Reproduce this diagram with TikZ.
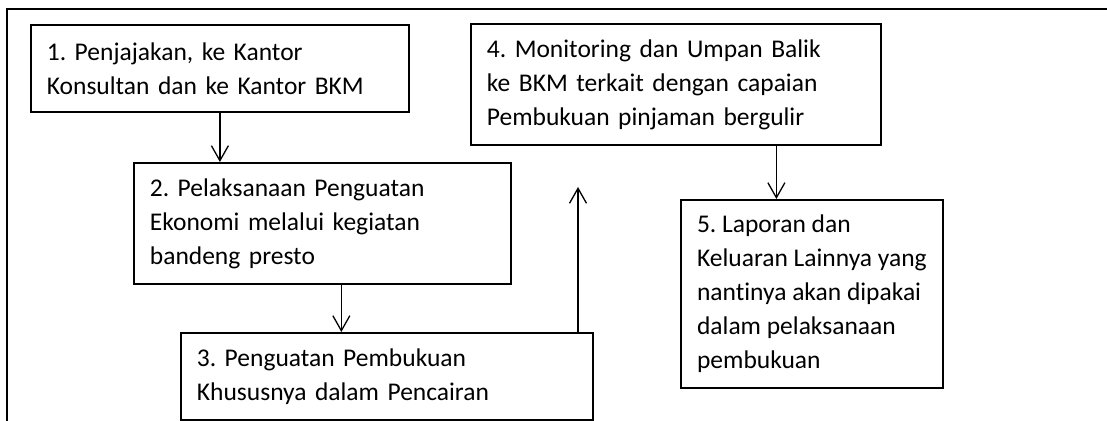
\documentclass[tikz,border=0pt]{standalone}
\usepackage{fontspec}
\setmainfont{Carlito}[Ligatures=CommonOff]
\usepackage{tikz}
\usetikzlibrary{arrows.meta, positioning, calc}

\tikzset{
    stagebox/.style={draw, line width=0.9pt, anchor=north west, align=left,
        inner xsep=8pt, inner ysep=0pt,
        font=\fontsize{12.75}{17}\selectfont\frenchspacing},
    flow/.style={line width=0.65pt, -{Straight Barb[length=7.5pt, width=8.5pt]}}
}

\begin{document}
\begin{tikzpicture}[x=0.5pt, y=-0.5pt]
        \useasboundingbox (0,0) rectangle (1107,421);

        % Bingkai
        \draw[line width=0.8pt] (7,421) -- (7,9) -- (1107,9);

        % Tahapan kegiatan
        \node[stagebox, text width=173pt, minimum height=43.5pt] (b1) at (30,24)
            {1. Penjajakan, ke Kantor\\Konsultan dan ke Kantor BKM};
        \node[stagebox, text width=172.5pt, minimum height=60.5pt] (b2) at (133,162)
            {2. Pelaksanaan Penguatan\\Ekonomi melalui kegiatan\\bandeng presto};
        \node[stagebox, text width=190pt, minimum height=43.5pt] (b3) at (180,332)
            {3. Penguatan Pembukuan\\Khususnya dalam Pencairan};
        \node[stagebox, text width=189pt, minimum height=60.5pt] (b4) at (470,23)
            {4. Monitoring dan Umpan Balik\\ke BKM terkait dengan capaian\\Pembukuan pinjaman bergulir};
        \node[stagebox, minimum width=131pt, minimum height=94pt] (b5) at (680,199)
            {5. Laporan dan\\Keluaran Lainnya yang\\nantinya akan dipakai\\dalam pelaksanaan\\pembukuan};

        % Alur
        \coordinate (fb) at (578,187);
        \draw[flow] (b1.south) -- (b1.south |- b2.north);
        \draw[flow] ($(b2.south west)!0.55!(b2.south east)$) coordinate (t23) -- (t23 |- b3.north);
        \draw[flow] (fb |- b3.north) -- (fb);
        \draw[flow] ($(b4.south west)!0.744!(b4.south east)$) coordinate (t45) -- (t45 |- b5.north);
    \end{tikzpicture}
\end{document}
